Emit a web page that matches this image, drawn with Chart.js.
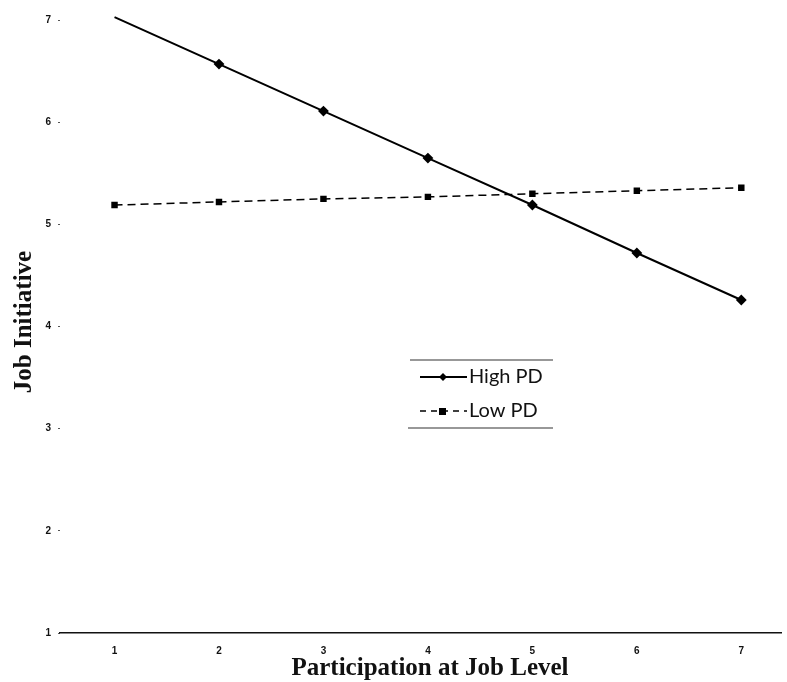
<!DOCTYPE html>
<html>
<head>
<meta charset="utf-8">
<script src="https://cdn.jsdelivr.net/npm/chart.js@4/dist/chart.umd.min.js"></script>
<style>
  html, body { margin: 0; padding: 0; background: #fff; }
  #wrap { width: 787px; height: 682px; }
</style>
</head>
<body>
<div id="wrap"><canvas id="chart" width="787" height="682"></canvas></div>
<script>
// datos
const participation = [1, 2, 3, 4, 5, 6, 7];
const highPD = [7.03, 6.57, 6.11, 5.65, 5.19, 4.72, 4.26];
const lowPD = [5.19, 5.22, 5.25, 5.27, 5.30, 5.33, 5.36];
const yTicks = [1, 2, 3, 4, 5, 6, 7];

// titulos y leyenda dibujados a mano
const extras = {
    id: "extras",
    afterDraw(chart) {
        const ctx = chart.ctx;
        ctx.save();
        ctx.fillStyle = "#111";
        ctx.font = "bold 25px 'Liberation Serif'";
        ctx.textAlign = "center";
        ctx.textBaseline = "alphabetic";
        ctx.fillText("Participation at Job Level", 430, 675);
        ctx.translate(31, 322);
        ctx.rotate(-Math.PI / 2);
        ctx.fillText("Job Initiative", 0, 0);
        ctx.restore();

        // leyenda
        ctx.save();
        ctx.strokeStyle = "#333";
        ctx.lineWidth = 1.2;
        ctx.beginPath();
        ctx.moveTo(410, 360); ctx.lineTo(553, 360);
        ctx.moveTo(408, 428); ctx.lineTo(553, 428);
        ctx.stroke();

        ctx.strokeStyle = "#000";
        ctx.fillStyle = "#000";
        ctx.lineWidth = 2;
        ctx.beginPath();
        ctx.moveTo(420, 377); ctx.lineTo(467, 377);
        ctx.stroke();
        ctx.beginPath();
        ctx.moveTo(443, 373); ctx.lineTo(447, 377); ctx.lineTo(443, 381); ctx.lineTo(439, 377);
        ctx.closePath();
        ctx.fill();

        ctx.lineWidth = 1.5;
        ctx.setLineDash([6, 5]);
        ctx.beginPath();
        ctx.moveTo(420, 411); ctx.lineTo(467, 411);
        ctx.stroke();
        ctx.setLineDash([]);
        ctx.fillRect(439, 408, 7, 7);

        ctx.font = "20px 'Lato'";
        ctx.textAlign = "left";
        ctx.textBaseline = "middle";
        ctx.fillStyle = "#111";
        ctx.fillText(chart.data.datasets[0].label, 469, 377);
        ctx.fillText(chart.data.datasets[1].label, 469, 411);
        ctx.restore();
    }
};

const ctx = document.getElementById("chart").getContext("2d");
window.myChart = new Chart(ctx, {
    type: "line",
    data: {
        datasets: [{
            label: "High PD",
            data: participation.map((x, i) => ({ x: x, y: highPD[i] })),
            borderColor: "#000",
            backgroundColor: "#000",
            borderWidth: 2,
            pointStyle: "rectRot",
            pointRadius: [0, 4, 4, 4, 4, 4, 4],
            tension: 0
        }, {
            label: "Low PD",
            data: participation.map((x, i) => ({ x: x, y: lowPD[i] })),
            borderColor: "#000",
            backgroundColor: "#000",
            borderWidth: 1.5,
            borderDash: [8, 5],
            pointStyle: "rect",
            pointRadius: 3.5,
            tension: 0
        }]
    },
    options: {
        responsive: false,
        animation: false,
        clip: false,
        layout: { padding: { top: 10, right: 0, left: 0, bottom: 0 } },
        plugins: {
            legend: { display: false },
            tooltip: { enabled: false }
        },
        scales: {
            x: {
                type: "linear",
                min: 0.478,
                max: 7.38,
                afterBuildTicks: (scale) => { scale.ticks = participation.map(v => ({ value: v })); },
                afterFit: (scale) => { scale.height = 49; },
                grid: { display: false, drawTicks: false },
                border: { display: true, color: "#111", width: 1.5 },
                ticks: {
                    color: "#111",
                    font: { family: "'Liberation Sans'", size: 10, weight: "bold" },
                    padding: 12,
                    maxRotation: 0
                }
            },
            y: {
                min: 1,
                max: 7.07,
                afterBuildTicks: (scale) => { scale.ticks = yTicks.map(v => ({ value: v })); },
                afterFit: (scale) => { scale.width = 60; },
                grid: { drawOnChartArea: false, drawTicks: true, tickLength: 2, color: "#555" },
                border: { display: false },
                ticks: {
                    color: "#111",
                    font: { family: "'Liberation Sans'", size: 10, weight: "bold" },
                    padding: 7
                }
            }
        }
    },
    plugins: [extras]
});
</script>
</body>
</html>
